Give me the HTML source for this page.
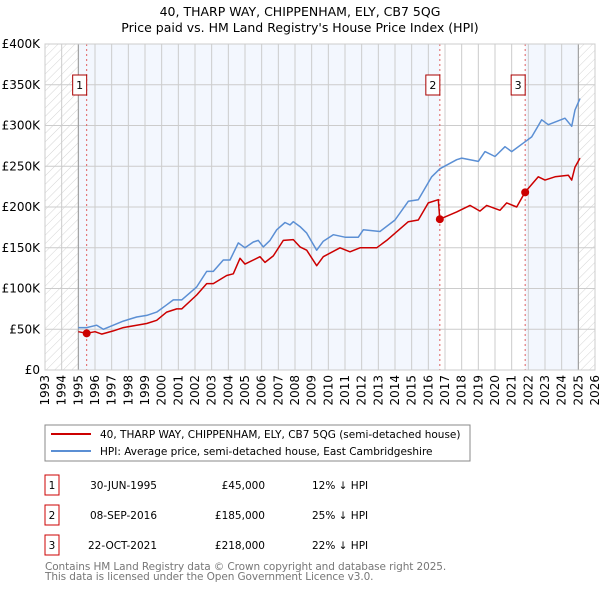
<!DOCTYPE html>
<html><head><meta charset="utf-8"><style>
body{margin:0;background:#fff;font-family:"DejaVu Sans","Liberation Sans",sans-serif;}
svg text{font-family:"DejaVu Sans","Liberation Sans",sans-serif;}
</style></head><body>
<svg id="c" width="600" height="590" xmlns="http://www.w3.org/2000/svg">
<defs><pattern id="hatch" width="6" height="6" patternUnits="userSpaceOnUse" patternTransform="rotate(45)"><line x1="0" y1="0" x2="0" y2="6" stroke="#d4d4d4" stroke-width="1"/></pattern></defs>
<text x="300" y="16" text-anchor="middle" font-size="12.5">40, THARP WAY, CHIPPENHAM, ELY, CB7 5QG</text>
<text x="300" y="32" text-anchor="middle" font-size="12.5">Price paid vs. HM Land Registry's House Price Index (HPI)</text>
<g id="plot"></g>
<g>
<rect x="45" y="425" width="425" height="36" fill="#fff" stroke="#888"/>
<line x1="51" y1="434" x2="91" y2="434" stroke="#cc0000" stroke-width="2"/>
<text x="100" y="438" font-size="10.5">40, THARP WAY, CHIPPENHAM, ELY, CB7 5QG (semi-detached house)</text>
<line x1="51" y1="451" x2="91" y2="451" stroke="#5b8fd4" stroke-width="2"/>
<text x="100" y="455" font-size="10.5">HPI: Average price, semi-detached house, East Cambridgeshire</text>
</g>
<g id="table" font-size="10.5"></g>
<text x="45" y="570" font-size="10.5" letter-spacing="-0.1" fill="#777">Contains HM Land Registry data © Crown copyright and database right 2025.</text>
<text x="45" y="580" font-size="10.5" letter-spacing="-0.1" fill="#777">This data is licensed under the Open Government Licence v3.0.</text>
</svg>
<script>
const hpiYears=[1995,1995.5,1996.1,1996.5,1997.1,1997.7,1998.5,1999.1,1999.7,2000.3,2000.7,2001.2,2002.1,2002.7,2003.1,2003.7,2004.1,2004.6,2005,2005.5,2005.8,2006.1,2006.5,2006.9,2007.4,2007.7,2007.9,2008.3,2008.7,2009.3,2009.7,2010.3,2011,2011.8,2012.1,2013.1,2014,2014.8,2015.4,2016.2,2016.7,2017.7,2018,2019,2019.4,2020,2020.6,2021,2021.8,2022.2,2022.8,2023.2,2024.2,2024.6,2024.8,2025.1];
const hpiValues=[52,52,55,50,55,60,65,67,71,80,86,86,102,121,121,135,135,156,150,157,159,151,159,172,181,178,182,176,168,147,158,166,163,163,172,170,184,207,209,237,247,258,260,256,268,262,274,268,280,286,307,301,309,299,319,333];
const priceYears=[1995,1995.5,1996,1996.4,1997.1,1997.7,1998.5,1999.1,1999.7,2000.3,2000.9,2001.2,2002.1,2002.7,2003.1,2003.9,2004.3,2004.7,2005,2005.9,2006.2,2006.7,2007.3,2007.9,2008.3,2008.7,2009.3,2009.7,2010.7,2011.3,2011.9,2012.9,2013.5,2014.8,2015.4,2016,2016.6,2016.69,2017.7,2018.5,2019.1,2019.5,2020.3,2020.7,2021.3,2021.8,2022.6,2023,2023.6,2024.4,2024.6,2024.8,2025.1];
const priceValues=[47,45,47,44,48,52,55,57,61,71,75,75,92,106,106,116,118,137,130,139,132,140,159,160,151,147,128,139,150,145,150,150,159,182,184,205,209,185,194,202,195,202,196,205,200,218,237,233,237,239,233,249,260];
const saleYears=[1995.5,2016.69,2021.81];
const saleValues=[45,185,218];
const saleLabels=["1","2","3"];
const saleDates=["30-JUN-1995","08-SEP-2016","22-OCT-2021"];
const salePrices=["£45,000","£185,000","£218,000"];
const saleDiffs=["12% ↓ HPI","25% ↓ HPI","22% ↓ HPI"];
const yTicks=[0,50,100,150,200,250,300,350,400];
const yTickLabels=["£0","£50K","£100K","£150K","£200K","£250K","£300K","£350K","£400K"];
const xStart=1993,xEnd=2026,dataStart=1995,dataEnd=2025;

const L=45,R=595,T=44,B=370;
const xs=y=>L+(y-xStart)/(xEnd-xStart)*(R-L);
const ys=v=>B-v/400*(B-T);
const NS="http://www.w3.org/2000/svg";
const g=document.getElementById('plot');
function mk(tag,attrs,parent){const e=document.createElementNS(NS,tag);for(const k in attrs)e.setAttribute(k,attrs[k]);(parent||g).appendChild(e);return e;}

let e=mk('rect',{x:L,y:T,width:R-L,height:B-T,fill:'#fff'});


const bands=[[dataStart,saleYears[1],'#f3f7fe'],[saleYears[1],saleYears[2],'#ffffff'],[saleYears[2],dataEnd,'#f3f7fe']];
bands.forEach((b,i)=>{e=mk('rect',{x:xs(b[0]),y:T,width:xs(b[1])-xs(b[0]),height:B-T,fill:b[2]});

});
e=mk('rect',{x:L,y:T,width:xs(dataStart)-L,height:B-T,fill:'url(#hatch)'});


e=mk('rect',{x:xs(dataEnd),y:T,width:R-xs(dataEnd),height:B-T,fill:'url(#hatch)'});



for(let y=xStart;y<=xEnd;y++){
 e=mk('line',{x1:xs(y),x2:xs(y),y1:T,y2:B,stroke:'#ccc','stroke-width':1});
 
 
 e=mk('text',{x:0,y:0,'font-size':12,'text-anchor':'end',transform:`translate(${xs(y)+4},${B+5}) rotate(-90)`});
 e.textContent=y;
 
 
}
yTicks.forEach((v,i)=>{
 e=mk('line',{x1:L,x2:R,y1:ys(v),y2:ys(v),stroke:'#ccc','stroke-width':1});
 
 
 e=mk('text',{x:40,y:ys(v)+4,'font-size':12,'text-anchor':'end'});
 e.textContent=yTickLabels[i];
 
 
});
[dataStart,dataEnd].forEach(y=>{e=mk('line',{x1:xs(y),x2:xs(y),y1:T,y2:B,stroke:'#999','stroke-width':1});

});

saleYears.forEach((y,i)=>{
 e=mk('line',{x1:xs(y),x2:xs(y),y1:T,y2:B,stroke:'#e06060','stroke-width':1,'stroke-dasharray':'2,3'});
 
 
});

function path(xa,va,color,name){
 const d=xa.map((x,i)=>(i?'L':'M')+xs(x).toFixed(1)+','+ys(va[i]).toFixed(1)).join('');
 const p=mk('path',{d:d,fill:'none',stroke:color,'stroke-width':1.5,'stroke-linejoin':'round'});
 
 
}
path(hpiYears,hpiValues,'#5b8fd4','hpi-line');
path(priceYears,priceValues,'#cc0000','price-paid-line');

saleYears.forEach((y,i)=>{
 e=mk('circle',{cx:xs(y),cy:ys(saleValues[i]),r:4,fill:'#cc0000'});
 
 
 e=mk('rect',{x:xs(y)-14,y:75,width:14,height:20,fill:'#fff',stroke:'#aa0000'});
 
 
 e=mk('text',{x:xs(y)-7,y:89,'font-size':11,'text-anchor':'middle'});
 e.textContent=saleLabels[i];
 
 
});
e=mk('rect',{x:L,y:T,width:R-L,height:B-T,fill:'none',stroke:'#ccc'});



const tb=document.getElementById('table');
saleLabels.forEach((l,i)=>{
 const cy=485+i*30;
 e=mk('rect',{x:45,y:cy-10,width:14,height:20,fill:'#fff',stroke:'#cc0000'},tb);
 
 
 e=mk('text',{x:52,y:cy+4,'text-anchor':'middle'},tb);e.textContent=l;
 
 
 e=mk('text',{x:157,y:cy+4,'text-anchor':'end'},tb);e.textContent=saleDates[i];
 
 
 e=mk('text',{x:265,y:cy+4,'text-anchor':'end'},tb);e.textContent=salePrices[i];
 
 
 e=mk('text',{x:312,y:cy+4},tb);e.textContent=saleDiffs[i];
 
 
});
</script>
</body></html>
